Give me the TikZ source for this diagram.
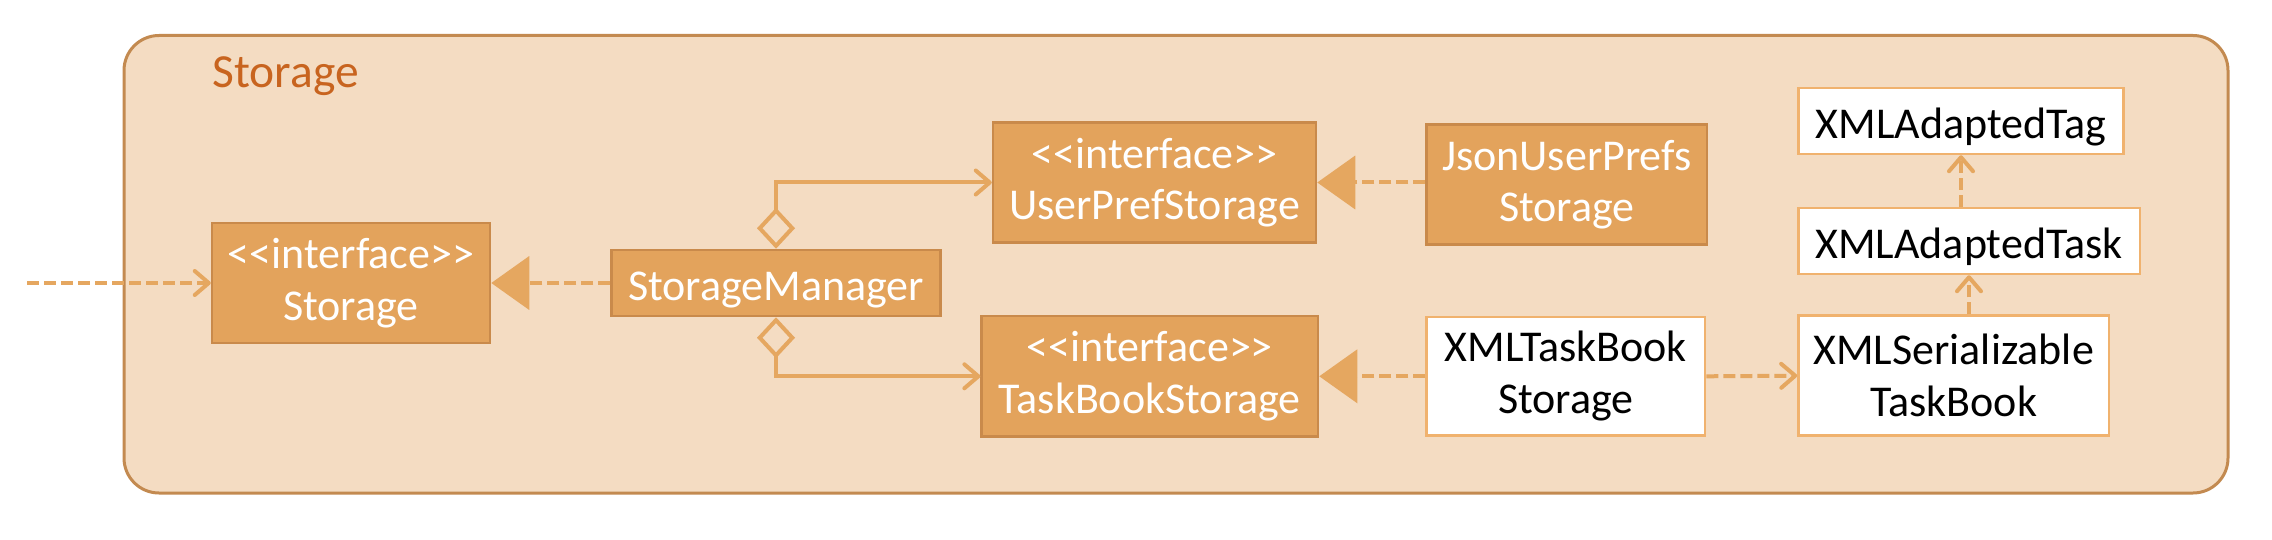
\documentclass[tikz,border=0pt]{standalone}
\usepackage{fontspec}
\setmainfont{Carlito}[Ligatures=TeXOff]
\usetikzlibrary{arrows.meta}
\definecolor{bgc}{HTML}{F4DCC2}
\definecolor{contline}{HTML}{C38A50}
\definecolor{boxfill}{HTML}{E3A35C}
\definecolor{boxline}{HTML}{C98A4B}
\definecolor{conn}{HTML}{E5A760}
\definecolor{wline}{HTML}{F0B26E}
\definecolor{titlec}{HTML}{C8641F}
\tikzset{
  pkgbox/.style={draw=contline, fill=bgc, line width=1.5pt, rounded corners=17.5pt, inner sep=0pt},
  obox/.style={draw=boxline, fill=boxfill, line width=1.25pt, text=white,
    font=\fontsize{22}{25.85}\selectfont, align=center, inner sep=0pt,
    execute at begin node={\rule{0pt}{21.4pt}}},
  wbox/.style={obox, fill=white, draw=wline, text=black},
  conline/.style={draw=conn, line width=2pt},
  dashline/.style={conline, dash pattern=on 6pt off 2.5pt},
  dep/.style={dashline, -{Straight Barb[length=7pt,width=12pt,round]}},
  real/.style={dashline, -{Triangle[length=19pt,width=26.5pt]}},
  agg/.style={conline, {Diamond[open,length=20.5pt,width=19pt,fill=bgc]}-{Straight Barb[length=7pt,width=12pt,round]}}
}
\begin{document}
\begin{tikzpicture}[x=0.5pt,y=-0.5pt]
\fill[white] (0,0) rectangle (2272,540);
\useasboundingbox (0,0) rectangle (2272,540);
\node[pkgbox, minimum width=1052pt, minimum height=228.75pt] (pkg) at (1176,264.25) {};
\node[anchor=base west, inner sep=0pt, text=titlec, font=\fontsize{23.75}{28}\selectfont] (title) at (212,88) {Storage};

\node[obox, minimum width=139pt, minimum height=60pt] (st) at (351,283) {<<interface>>\\Storage};
\node[obox, minimum width=164.5pt, minimum height=33pt] (sm) at (776,283) {StorageManager};
\node[obox, minimum width=161.5pt, minimum height=60pt] (ups) at (1154.5,182.5) {<<interface>>\\UserPrefStorage};
\node[obox, minimum width=168.2pt, minimum height=60.3pt] (tbs) at (1149.8,376.3) {<<interface>>\\TaskBookStorage};
\node[obox, minimum width=140.25pt, minimum height=60pt] (json) at (1566.75,184.6) {JsonUserPrefs\\Storage};
\node[wbox, minimum width=139.25pt, minimum height=59.3pt] (xtbs) at (1565.75,376.3) {XMLTaskBook\\Storage};
\node[wbox, minimum width=162.6pt, minimum height=33pt] (tag) at (1961,121) {XMLAdaptedTag};
\node[wbox, minimum width=170.75pt, minimum height=33pt] (task) at (1969,241) {XMLAdaptedTask};
\node[wbox, minimum width=155.25pt, minimum height=60pt] (ser) at (1953.7,375.7) {XMLSerializable\\TaskBook};

\coordinate (in) at (27,283);
\draw[dep] (in) -- (st.west);
\draw[real] (json.west |- ups.east) -- (ups.east);
\draw[real] (sm.west) -- (st.east);
\draw[real] (xtbs.west) -- (tbs.east);
\draw[dep] (xtbs.east) -- (ser.west);
\draw[dep] (task.south |- ser.north) -- (task.south);
\draw[dep] (tag.south |- task.north) -- (tag.south);
\draw[agg] (sm.north) |- (ups.west);
\draw[agg] (sm.south) |- (tbs.west);
\end{tikzpicture}
\end{document}
